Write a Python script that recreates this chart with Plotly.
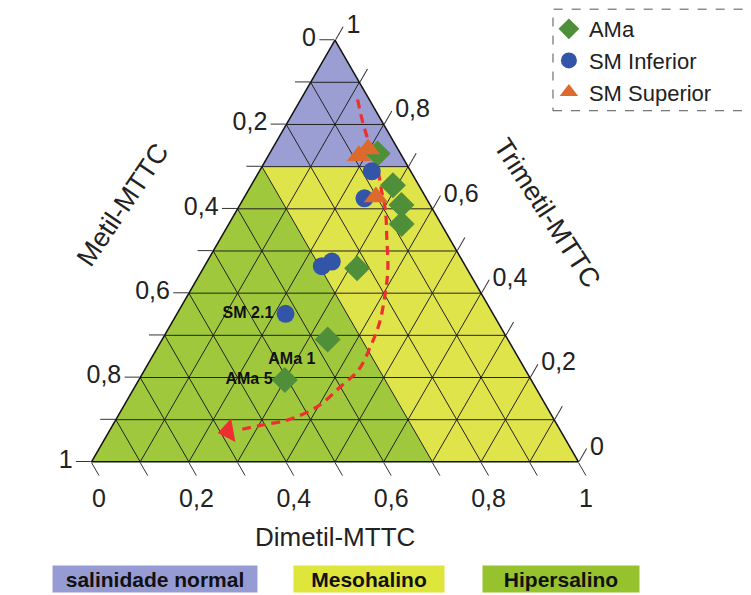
import plotly.graph_objects as go

# ---------------- data (Trimetil = a, Metil = b, Dimetil = c) ----------------
ama_trimetil = [0.731, 0.656, 0.609, 0.564, 0.459, 0.290, 0.194]
ama_metil    = [0.047, 0.053, 0.059, 0.081, 0.225, 0.370, 0.506]
ama_dimetil  = [0.222, 0.291, 0.332, 0.355, 0.316, 0.340, 0.300]

sminf_trimetil = [0.689, 0.625, 0.464, 0.475, 0.351]
sminf_metil    = [0.080, 0.127, 0.295, 0.269, 0.426]
sminf_dimetil  = [0.231, 0.248, 0.241, 0.256, 0.223]

smsup_trimetil = [0.726, 0.742, 0.628]
smsup_metil    = [0.088, 0.061, 0.102]
smsup_dimetil  = [0.186, 0.197, 0.270]

# labelled samples
label_text     = ["SM 2.1", "AMa 1", "AMa 5"]
label_trimetil = [0.351, 0.290, 0.194]
label_metil    = [0.426, 0.370, 0.506]
label_dimetil  = [0.223, 0.340, 0.300]
label_pos      = ["middle left", "bottom left", "middle left"]

# red trend curve
trend_trimetil = [0.860, 0.803, 0.756, 0.696, 0.639, 0.597, 0.527, 0.457, 0.398,
                  0.328, 0.274, 0.218, 0.180, 0.134, 0.101, 0.087, 0.075]
trend_metil    = [0.024, 0.041, 0.052, 0.065, 0.084, 0.098, 0.130, 0.163, 0.198,
                  0.245, 0.290, 0.343, 0.397, 0.466, 0.542, 0.607, 0.663]
trend_dimetil  = [0.117, 0.156, 0.192, 0.240, 0.276, 0.305, 0.343, 0.380, 0.404,
                  0.427, 0.436, 0.440, 0.423, 0.401, 0.357, 0.306, 0.262]
arrow_tip = dict(trimetil=0.073, metil=0.683, dimetil=0.244)

# salinity zones (boundaries: Trimetil = 0.7, Metil = 0.3)
zone_names  = ["salinidade normal", "Mesohalino", "Hipersalino"]
zone_colors = ["#9b9ed2", "#e0e44b", "#a0c83c"]
zone_box_colors = ["#979bd3", "#dee63c", "#96c32d"]
zone_trimetil = [[1.0, 0.7, 0.7, 1.0],
                 [0.7, 0.7, 0.0, 0.0, 0.7],
                 [0.7, 0.0, 0.0, 0.7]]
zone_metil    = [[0.0, 0.3, 0.0, 0.0],
                 [0.3, 0.0, 0.0, 0.3, 0.3],
                 [0.3, 1.0, 0.3, 0.3]]
zone_dimetil  = [[0.0, 0.0, 0.3, 0.0],
                 [0.0, 0.3, 1.0, 0.7, 0.0],
                 [0.0, 0.0, 0.7, 0.0]]

grid_steps = [i / 10 for i in range(11)]

FONT = "Liberation Sans, Arial, sans-serif"


def fmt(v):
    if abs(v) < 1e-9:
        return "0"
    if abs(v - 1) < 1e-9:
        return "1"
    return ("%.1f" % v).replace(".", ",")


# labels are reversed with respect to plotly's default orientation
tick_text = [fmt(1 - v) if round(v * 10) % 2 == 0 else "" for v in grid_steps]

fig = go.Figure()

# zone fills
for name, col, ta, tb, tc in zip(zone_names, zone_colors, zone_trimetil, zone_metil, zone_dimetil):
    fig.add_trace(go.Scatterternary(
        a=ta, b=tb, c=tc, mode="lines", fill="toself", fillcolor=col,
        line=dict(width=0, color=col), hoverinfo="skip", showlegend=False, name=name))

# grid lines (0.1 step)
ga, gb, gc = [], [], []
for v in grid_steps[1:-1]:
    ga += [v, v, None]; gb += [1 - v, 0, None]; gc += [0, 1 - v, None]
    ga += [1 - v, 0, None]; gb += [v, v, None]; gc += [0, 1 - v, None]
    ga += [1 - v, 0, None]; gb += [0, 1 - v, None]; gc += [v, v, None]
fig.add_trace(go.Scatterternary(a=ga, b=gb, c=gc, mode="lines",
                                line=dict(color="#222222", width=1),
                                hoverinfo="skip", showlegend=False, connectgaps=False))

# trend curve + arrow
fig.add_trace(go.Scatterternary(a=trend_trimetil, b=trend_metil, c=trend_dimetil,
                                mode="lines", line=dict(color="#ee2f2f", width=3.2,
                                                        dash="9px,6px", shape="spline"),
                                hoverinfo="skip", showlegend=False))
fig.add_trace(go.Scatterternary(a=[arrow_tip["trimetil"]], b=[arrow_tip["metil"]],
                                c=[arrow_tip["dimetil"]], mode="markers",
                                marker=dict(symbol="triangle-left", size=21, angle=-10,
                                            color="#ee2f2f"),
                                hoverinfo="skip", showlegend=False))

# samples
fig.add_trace(go.Scatterternary(a=ama_trimetil, b=ama_metil, c=ama_dimetil, mode="markers",
                                name="AMa", marker=dict(symbol="diamond", size=20,
                                                        color="#4f8f3a")))
fig.add_trace(go.Scatterternary(a=sminf_trimetil, b=sminf_metil, c=sminf_dimetil,
                                mode="markers", name="SM Inferior",
                                marker=dict(symbol="circle", size=18, color="#3355a8")))
fig.add_trace(go.Scatterternary(a=smsup_trimetil, b=smsup_metil, c=smsup_dimetil,
                                mode="markers", name="SM Superior",
                                marker=dict(symbol="triangle-up", size=21, color="#dd6a2c")))

# sample labels (invisible markers keep the text clear of the symbols)
fig.add_trace(go.Scatterternary(a=label_trimetil, b=label_metil, c=label_dimetil,
                                mode="markers+text", text=label_text, textposition=label_pos,
                                marker=dict(size=18, opacity=0),
                                textfont=dict(family=FONT, size=16, color="#111111",
                                              weight="bold"),
                                hoverinfo="skip", showlegend=False))

axis_common = dict(
    tickmode="array", tickvals=grid_steps, ticktext=tick_text,
    ticks="outside", ticklen=15, tickwidth=1, tickcolor="#333333",
    tickfont=dict(family=FONT, size=25, color="#222222"),
    showline=True, linecolor="#111111", linewidth=1.5,
    showgrid=False, layer="above traces", title=dict(text=""),
)

# the page adds an 8 px body margin, so the figure is 8 px smaller than the window
fig.update_layout(
    width=743, height=587,
    margin=dict(l=0, r=0, t=0, b=0, autoexpand=False),
    paper_bgcolor="white",
    font=dict(family=FONT, color="#222222"),
    ternary=dict(
        sum=1,
        bgcolor="rgba(0,0,0,0)",
        domain=dict(x=[0.1124, 0.7678], y=[0.2266, 0.9455]),
        aaxis=axis_common, baxis=axis_common, caxis=axis_common,
    ),
    showlegend=True,
    legend=dict(x=0.728, y=1.0, xanchor="left", yanchor="top",
                font=dict(family=FONT, size=22, color="#222222"),
                bgcolor="rgba(0,0,0,0)", itemsizing="trace",
                tracegroupgap=0, itemwidth=30),
    shapes=[dict(type="rect", xref="paper", yref="paper",
                 x0=0.7335, x1=0.9987, y0=0.825, y1=0.998,
                 line=dict(color="#555555", width=1, dash="dash"))],
)

annotations = [
    dict(text="Dimetil-MTTC", x=0.4401, y=0.0988, textangle=0,
         font=dict(size=26, family=FONT, color="#222222")),
    dict(text="Metil-MTTC", x=0.1540, y=0.6650, textangle=-56,
         font=dict(size=27, family=FONT, color="#222222")),
    dict(text="Trimetil-MTTC", x=0.7254, y=0.6500, textangle=57,
         font=dict(size=27, family=FONT, color="#222222")),
]
box_x = [0.1978, 0.4852, 0.7443]
box_w = [202, 148, 154]
for name, col, bx, bw in zip(zone_names, zone_box_colors, box_x, box_w):
    annotations.append(dict(text="<b>%s</b>" % name, x=bx, y=0.0273, width=bw, height=24,
                            bgcolor=col, borderpad=1,
                            font=dict(size=21, family=FONT, color="#111111")))
for an in annotations:
    an.update(xref="paper", yref="paper", showarrow=False, xanchor="center", yanchor="middle")
fig.update_layout(annotations=annotations)

fig.write_html("out.html")
